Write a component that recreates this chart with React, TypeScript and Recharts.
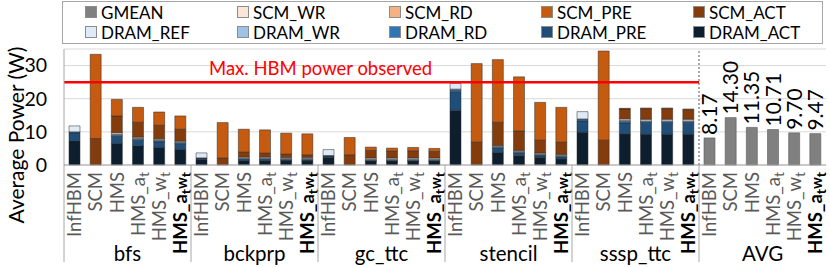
import React from 'react';
import { BarChart, Bar, XAxis, YAxis, CartesianGrid, ReferenceLine, Legend, LabelList } from 'recharts';

const FONT = 'Lato, "Open Sans", sans-serif';

const groups = ['bfs', 'bckprp', 'gc_ttc', 'stencil', 'sssp_ttc', 'AVG'];
const configs = ['InfHBM', 'SCM', 'HMS', 'HMS_a_t', 'HMS_w_t', 'HMS_a_tw_t'];
const yTicks = [0, 10, 20, 30];

// per benchmark: InfHBM, SCM, HMS, HMS_a_t, HMS_w_t, HMS_a_tw_t
const dramAct = [
  7.3, 0, 6.5, 5.8, 5.3, 4.7,
  1.7, 0, 1.3, 1.3, 1.2, 1.2,
  2.3, 0, 1.2, 1.2, 1.2, 1.2,
  16.5, 0, 3.8, 2.8, 2.3, 1.8,
  9.9, 0, 9.4, 9.3, 9.3, 9.3,
];
const dramPre = [
  2.4, 0, 2.1, 1.6, 1.7, 1.6,
  0.3, 0, 0.3, 0.3, 0.3, 0.3,
  0.4, 0, 0.1, 0.1, 0.1, 0.1,
  5.6, 0, 1.3, 0.8, 0.5, 0.6,
  3.4, 0, 3.3, 3.3, 3.3, 3.3,
];
const dramRd = [
  0.2, 0, 0.3, 0.3, 0.3, 0.3,
  0.1, 0, 0.2, 0.2, 0.2, 0.2,
  0.1, 0, 0.1, 0.1, 0.1, 0.1,
  0.5, 0, 0.2, 0.2, 0.2, 0.2,
  0.4, 0, 0.4, 0.4, 0.4, 0.4,
];
const dramWr = [
  0.1, 0, 0.3, 0.3, 0.3, 0.3,
  0.05, 0, 0.3, 0.3, 0.3, 0.3,
  0.05, 0, 0.3, 0.3, 0.3, 0.3,
  0.3, 0, 0.3, 0.3, 0.3, 0.3,
  0.2, 0, 0.3, 0.3, 0.3, 0.3,
];
const dramRef = [
  1.8, 0, 0.5, 0.4, 0.3, 0.3,
  1.5, 0, 0.3, 0.3, 0.3, 0.3,
  1.8, 0, 0.4, 0.4, 0.4, 0.4,
  1.7, 0, 0.3, 0.3, 0.3, 0.3,
  2.2, 0, 0.5, 0.5, 0.5, 0.5,
];
const scmAct = [
  0, 8.0, 5.1, 4.5, 4.1, 3.6,
  0, 2.1, 1.5, 1.2, 1.0, 0.8,
  0, 3.1, 2.3, 2.1, 2.2, 2.0,
  0, 6.9, 7.0, 5.9, 3.9, 3.7,
  0, 7.5, 3.0, 3.2, 3.2, 2.9,
];
const scmPre = [
  0, 25.4, 5.0, 4.5, 4.0, 4.0,
  0, 10.7, 6.9, 7.0, 6.3, 6.3,
  0, 5.2, 1.0, 0.9, 1.0, 0.9,
  0, 23.7, 18.9, 16.3, 11.4, 10.5,
  0, 26.9, 0.2, 0.2, 0.2, 0.2,
];
const scmRd = [
  0, 0, 0, 0, 0, 0,
  0, 0, 0, 0, 0, 0,
  0, 0, 0, 0, 0, 0,
  0, 0, 0, 0, 0, 0,
  0, 0, 0, 0, 0, 0,
];
const scmWr = [
  0, 0, 0, 0, 0, 0,
  0, 0, 0, 0, 0, 0,
  0, 0, 0, 0, 0, 0,
  0, 0, 0, 0, 0, 0,
  0, 0, 0, 0, 0, 0,
];
const gmean = [8.17, 14.3, 11.35, 10.71, 9.7, 9.47];

const stackKeys = ['DRAM_ACT', 'DRAM_PRE', 'DRAM_RD', 'DRAM_WR', 'DRAM_REF', 'SCM_ACT', 'SCM_PRE', 'SCM_RD', 'SCM_WR'];
const stackValues: Record<string, number[]> = {
  DRAM_ACT: dramAct,
  DRAM_PRE: dramPre,
  DRAM_RD: dramRd,
  DRAM_WR: dramWr,
  DRAM_REF: dramRef,
  SCM_ACT: scmAct,
  SCM_PRE: scmPre,
  SCM_RD: scmRd,
  SCM_WR: scmWr,
};
const legendOrder = ['GMEAN', 'SCM_WR', 'SCM_RD', 'SCM_PRE', 'SCM_ACT', 'DRAM_REF', 'DRAM_WR', 'DRAM_RD', 'DRAM_PRE', 'DRAM_ACT'];

const colors: Record<string, string> = {
  GMEAN: '#808080',
  SCM_WR: '#fbe5d6',
  SCM_RD: '#f4b183',
  SCM_PRE: '#c55a11',
  SCM_ACT: '#843c0c',
  DRAM_REF: '#deebf7',
  DRAM_WR: '#9dc3e6',
  DRAM_RD: '#2e75b6',
  DRAM_PRE: '#1f4e79',
  DRAM_ACT: '#0d1e2f',
};

const data = groups.flatMap((g, gi) =>
  configs.map((c, ci) => {
    const row: Record<string, any> = { id: `${g}|${c}` };
    if (g === 'AVG') {
      row.GMEAN = gmean[ci];
    } else {
      stackKeys.forEach((k) => {
        row[k] = stackValues[k][gi * 6 + ci];
      });
    }
    return row;
  })
);

function configLabel(c: string) {
  if (c === 'HMS_a_t')
    return (
      <>
        HMS_a<tspan dy={4} fontSize="0.75em">t</tspan>
      </>
    );
  if (c === 'HMS_w_t')
    return (
      <>
        HMS_w<tspan dy={4} fontSize="0.75em">t</tspan>
      </>
    );
  if (c === 'HMS_a_tw_t')
    return (
      <>
        HMS_a<tspan dy={4} fontSize="0.75em">t</tspan>
        <tspan dy={-4} fontSize="0.8em">w</tspan>
        <tspan dy={4} fontSize="0.75em">t</tspan>
      </>
    );
  return c;
}

const ConfigTick = (props: any) => {
  const { x, y, payload } = props;
  const [group, config] = String(payload.value).split('|');
  const ci = configs.indexOf(config);
  const half = payload.offset || 10.6;
  const bold = config === 'HMS_a_tw_t';
  return (
    <g>
      <text
        transform={`translate(${x},${y + 1}) rotate(-90)`}
        textAnchor="end"
        dy="0.36em"
        fontSize={18.5}
        fontFamily={FONT}
        fontWeight={bold ? 700 : 400}
        fill={bold ? '#000' : '#595959'}
      >
        {configLabel(config)}
      </text>
      {ci === 0 && <line x1={x - half} x2={x - half} y1={y - 6} y2={y + 91} stroke="#a6a6a6" />}
      {ci === 2 && (
        <text x={x + half} y={y + 90} textAnchor="middle" fontSize={20.5} fontFamily={FONT} fill="#000">
          {group}
        </text>
      )}
    </g>
  );
};

const GmeanLabel = (p: any) => {
  const { x, y, width, value } = p;
  if (value == null) return null;
  return (
    <text
      transform={`translate(${x + width / 2},${y - 3}) rotate(-90)`}
      dy="0.36em"
      textAnchor="start"
      fontSize={21}
      fontFamily={FONT}
      fill="#000"
    >
      {Number(value).toFixed(2)}
    </text>
  );
};

const LegendBox = () => (
  <div
    style={{
      border: '1px solid #a6a6a6',
      boxSizing: 'border-box',
      width: 761,
      height: 43,
      background: '#fff',
      display: 'grid',
      gridTemplateColumns: 'repeat(5, 152px)',
      gridAutoRows: '20px',
      padding: '0 0 0 22px',
      fontFamily: FONT,
      fontSize: 17,
      color: '#000',
    }}
  >
    {legendOrder.map((k) => (
      <div key={k} style={{ display: 'flex', alignItems: 'center', whiteSpace: 'nowrap' }}>
        <span
          style={{
            display: 'inline-block',
            width: 10,
            height: 10,
            background: colors[k],
            border: '1px solid #8c8c8c',
            marginRight: 4,
          }}
        />
        {k}
      </div>
    ))}
  </div>
);

const RedLabel = (p: any) => {
  const vb = p.viewBox || { x: 64, y: 82 };
  return (
    <text x={vb.x + 145} y={vb.y - 7} fill="#ff0000" fontSize={18.5} fontFamily={FONT}>
      Max. HBM power observed
    </text>
  );
};

const YLabel = (p: any) => {
  const vb = p.viewBox || { x: 0, y: 49, height: 116 };
  const cx = 16;
  const cy = vb.y + vb.height / 2 + 28;
  return (
    <text transform={`translate(${cx},${cy}) rotate(-90)`} textAnchor="middle" dy="0.36em" fontSize={21} fontFamily={FONT} fill="#000">
      Average Power (W)
    </text>
  );
};

export default function App() {
  return (
    <div style={{ position: 'absolute', left: 0, top: 0, width: 830, height: 267, background: '#fff' }}>
      <BarChart
        width={830}
        height={267}
        data={data}
        margin={{ top: 49, right: 4, bottom: 0, left: 0 }}
        barSize={11}
      >
        <CartesianGrid vertical={false} stroke="#d9d9d9" />
        <XAxis
          dataKey="id"
          interval={0}
          height={102}
          tickSize={0}
          tickMargin={6}
          tick={<ConfigTick />}
          axisLine={{ stroke: '#a6a6a6' }}
        />
        <YAxis
          width={64}
          domain={[0, 35]}
          ticks={yTicks}
          tickLine={false}
          axisLine={{ stroke: '#a6a6a6' }}
          tick={{ fontSize: 19.5, fontFamily: FONT, fill: '#000' }}
          tickMargin={11}
          label={<YLabel />}
        />
        <Legend
          layout="horizontal"
          verticalAlign="middle"
          align="center"
          wrapperStyle={{ left: 62, top: 1, width: 761, height: 43 }}
          content={() => <LegendBox />}
        />
        {stackKeys.map((k) => (
          <Bar key={k} dataKey={k} stackId="a" fill={colors[k]} stroke="#2b2b2b" strokeWidth={0.5} isAnimationActive={false} />
        ))}
        <Bar dataKey="GMEAN" stackId="a" fill={colors.GMEAN} stroke="#5a5a5a" strokeWidth={0.6} isAnimationActive={false}>
          <LabelList dataKey="GMEAN" content={<GmeanLabel />} />
        </Bar>
        <ReferenceLine x="AVG|InfHBM" position="start" stroke="#595959" strokeDasharray="2 2" />
        <ReferenceLine
          segment={[
            { x: 'bfs|InfHBM', y: 25 },
            { x: 'AVG|InfHBM', y: 25 },
          ]}
          position="start"
          stroke="#ff0000"
          strokeWidth={2.5}
          label={<RedLabel />}
        />
      </BarChart>
    </div>
  );
}
